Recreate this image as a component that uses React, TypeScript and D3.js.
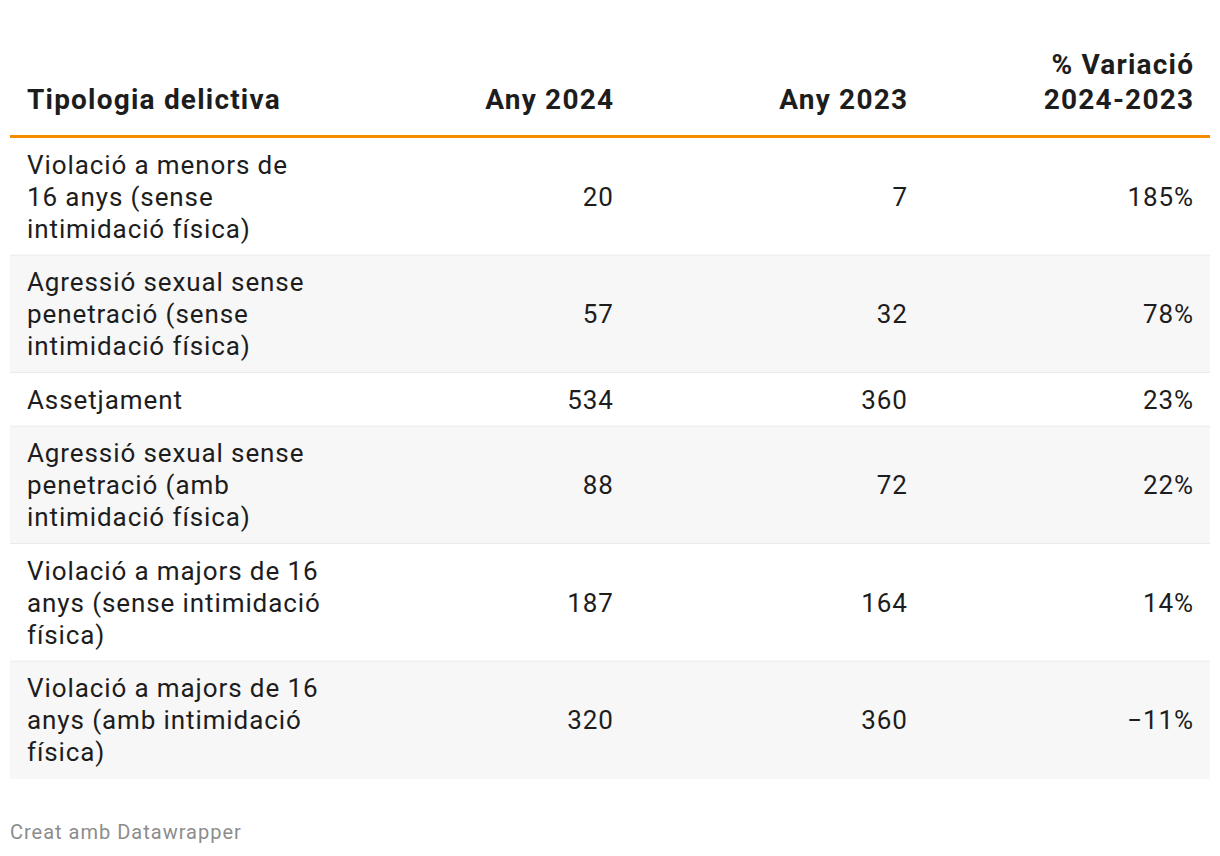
import React from "react";
import * as d3 from "d3";

const headers = ["Tipologia delictiva", "Any 2024", "Any 2023", "% Variació\n2024-2023"];
const categoryLines: string[][] = [
  ["Violació a menors de", "16 anys (sense", "intimidació física)"],
  ["Agressió sexual sense", "penetració (sense", "intimidació física)"],
  ["Assetjament"],
  ["Agressió sexual sense", "penetració (amb", "intimidació física)"],
  ["Violació a majors de 16", "anys (sense intimidació", "física)"],
  ["Violació a majors de 16", "anys (amb intimidació", "física)"],
];
const values2024 = [20, 57, 534, 88, 187, 320];
const values2023 = [7, 32, 360, 72, 164, 360];
const variation = [185, 78, 23, 22, 14, -11];
const footer = "Creat amb Datawrapper";

const W = 1220;
const H = 856;
const FONT = "Roboto, 'Noto Sans', sans-serif";

export default function App() {
  const left = 10;
  const right = 1210;
  const lineH = 32;
  const pad = 10.75;
  const headerLineY = 136.5;
  const tableTop = 138;
  const heights = categoryLines.map((l) => l.length * lineH + pad * 2);
  const tops = [tableTop, ...Array.from(d3.cumsum(heights)).map((c) => tableTop + c)];
  const colRight = [0, 613, 907, 1193];
  const fmtPct = (v: number) => d3.format("d")(v) + "%";
  const headerLines = headers.map((h) => h.split("\n"));
  const headerBaseline = 109;
  const bodyFs = 26;
  const bodyLs = 0.9;
  const headFs = 28;
  const headLs = 1.2;

  return (
    <svg
      width={W}
      height={H}
      style={{ position: "absolute", left: 0, top: 0, display: "block", background: "#fff" }}
      fontFamily={FONT}
    >
      {/* header */}
      {headerLines.map((lines, ci) =>
        lines.map((t, li) => (
          <text
            key={`h${ci}-${li}`}
            x={ci === 0 ? 27 : colRight[ci] + headLs}
            y={headerBaseline - (lines.length - 1 - li) * 35}
            textAnchor={ci === 0 ? "start" : "end"}
            fontSize={headFs}
            letterSpacing={headLs}
            fontWeight={700}
            fill="#1d1d1d"
          >
            {t}
          </text>
        ))
      )}
      <line x1={left} x2={right} y1={headerLineY} y2={headerLineY} stroke="#f78b00" strokeWidth={3} />

      {/* rows */}
      {categoryLines.map((lines, i) => {
        const y0 = tops[i];
        const h = heights[i];
        const cy = y0 + h / 2;
        const cells = [values2024[i], values2023[i]];
        return (
          <g key={i}>
            <rect x={left} y={y0} width={right - left} height={h} fill={i % 2 === 1 ? "#f7f7f7" : "#ffffff"} />
            {i < categoryLines.length - 1 && (
              <line x1={left} x2={right} y1={y0 + h} y2={y0 + h} stroke="#e6e6e6" strokeWidth={1.5} />
            )}
            {lines.map((t, li) => (
              <text
                key={li}
                x={27}
                y={y0 + pad + lineH / 2 + li * lineH + 9}
                fontSize={bodyFs}
                letterSpacing={bodyLs}
                fill="#1d1d1d"
              >
                {t}
              </text>
            ))}
            {cells.map((v, ci) => (
              <text
                key={`c${ci}`}
                x={colRight[ci + 1] + bodyLs}
                y={cy + 9}
                textAnchor="end"
                fontSize={bodyFs}
                letterSpacing={bodyLs}
                fill="#1d1d1d"
              >
                {v}
              </text>
            ))}
            <text
              x={colRight[3] + bodyLs}
              y={cy + 9}
              textAnchor="end"
              fontSize={bodyFs}
              letterSpacing={bodyLs}
              fill="#1d1d1d"
            >
              {fmtPct(variation[i])}
            </text>
          </g>
        );
      })}

      <text x={10} y={839} fontSize={20} letterSpacing={1} fill="#8c8c8c">
        {footer}
      </text>
    </svg>
  );
}
